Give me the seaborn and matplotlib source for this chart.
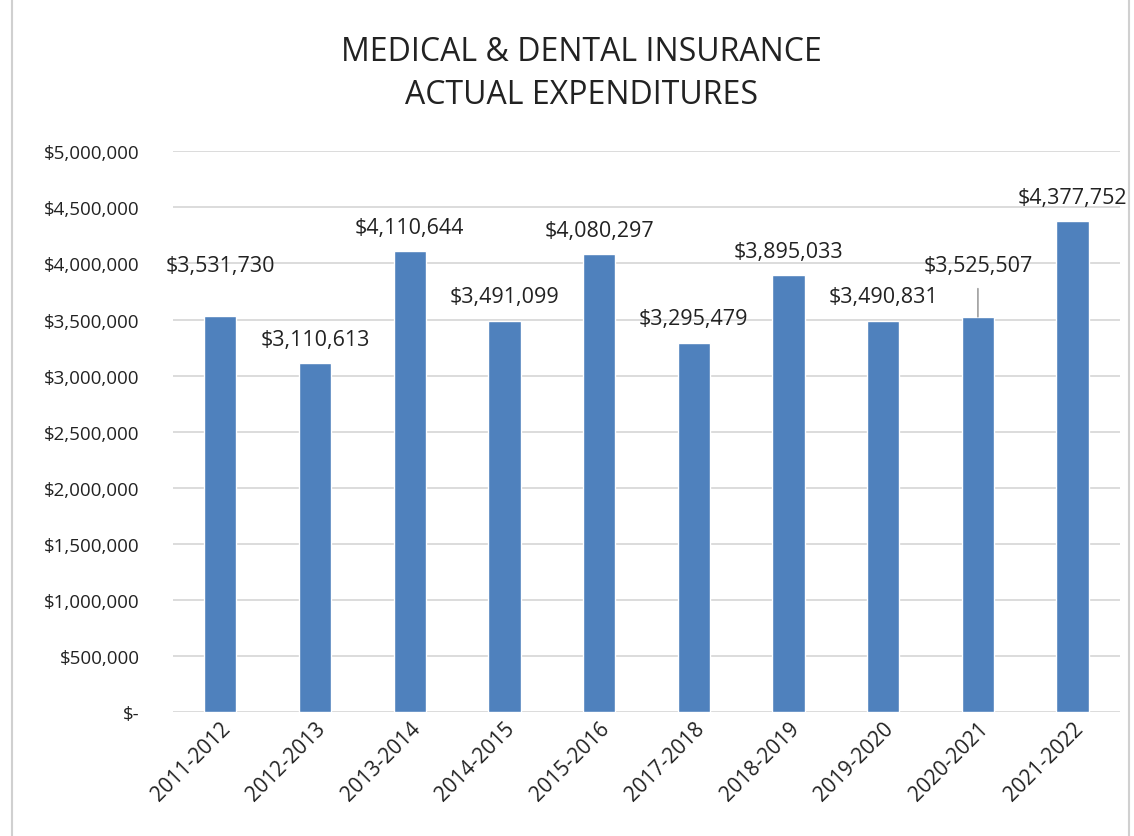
import pandas as pd
import seaborn as sns
import matplotlib.pyplot as plt
from matplotlib.patches import Rectangle
from matplotlib.ticker import FuncFormatter

years = ["2011-2012", "2012-2013", "2013-2014", "2014-2015", "2015-2016",
         "2017-2018", "2018-2019", "2019-2020", "2020-2021", "2021-2022"]
expenditures = [3531730, 3110613, 4110644, 3491099, 4080297,
                3295479, 3895033, 3490831, 3525507, 4377752]

df = pd.DataFrame({"year": years, "amount": expenditures})

sns.set_theme(style="white")
plt.rcParams["font.family"] = ["Open Sans", "DejaVu Sans"]

fig = plt.figure(figsize=(11.34, 8.37), dpi=100)
ax = fig.add_axes([0.1526, 0.148, 0.835, 0.670])

sns.barplot(data=df, x="year", y="amount", color="#4f81bd", width=0.34,
            saturation=1, ax=ax)

ax.set_ylim(0, 5000000)
ax.set_yticks(range(0, 5000001, 500000))
ax.yaxis.set_major_formatter(FuncFormatter(
    lambda v, p: "$-" if v == 0 else f"${v:,.0f}"))
ax.grid(axis="y", color="#d9d9d9", linewidth=1.3)
ax.set_axisbelow(True)
for s in ax.spines.values():
    s.set_visible(False)
ax.set_xlabel("")
ax.set_ylabel("")
ax.tick_params(axis="y", labelsize=13.5, pad=24, colors="#222222", length=0)
ax.tick_params(axis="x", labelsize=15, colors="#222222", length=0, pad=4)
plt.setp(ax.get_xticklabels(), rotation=45, ha="right", rotation_mode="anchor")

# data labels (two of them sit higher, like in the original)
for i, v in enumerate(expenditures):
    lift = 24
    if years[i] in ("2011-2012", "2020-2021"):
        lift = 51
    ax.annotate(f"${v:,.0f}", (i, v), xytext=(0, lift), textcoords="offset pixels",
                ha="center", va="center", fontsize=15.5, color="#222222")
    if years[i] == "2020-2021":
        ax.annotate("", (i, v), xytext=(0, 28), textcoords="offset pixels",
                    arrowprops=dict(arrowstyle="-", color="#a6a6a6", lw=1.3,
                                    shrinkA=0, shrinkB=0))

fig.text(0.513, 0.911, "MEDICAL & DENTAL INSURANCE\nACTUAL EXPENDITURES",
         ha="center", va="center", fontsize=23, color="#222222", linespacing=1.4)

fig.patches.append(Rectangle((0.011, -0.01), 0.985, 1.02, transform=fig.transFigure,
                             fill=False, edgecolor="#d0d0d0", linewidth=1.5))

fig.savefig("out.png", dpi=100)
